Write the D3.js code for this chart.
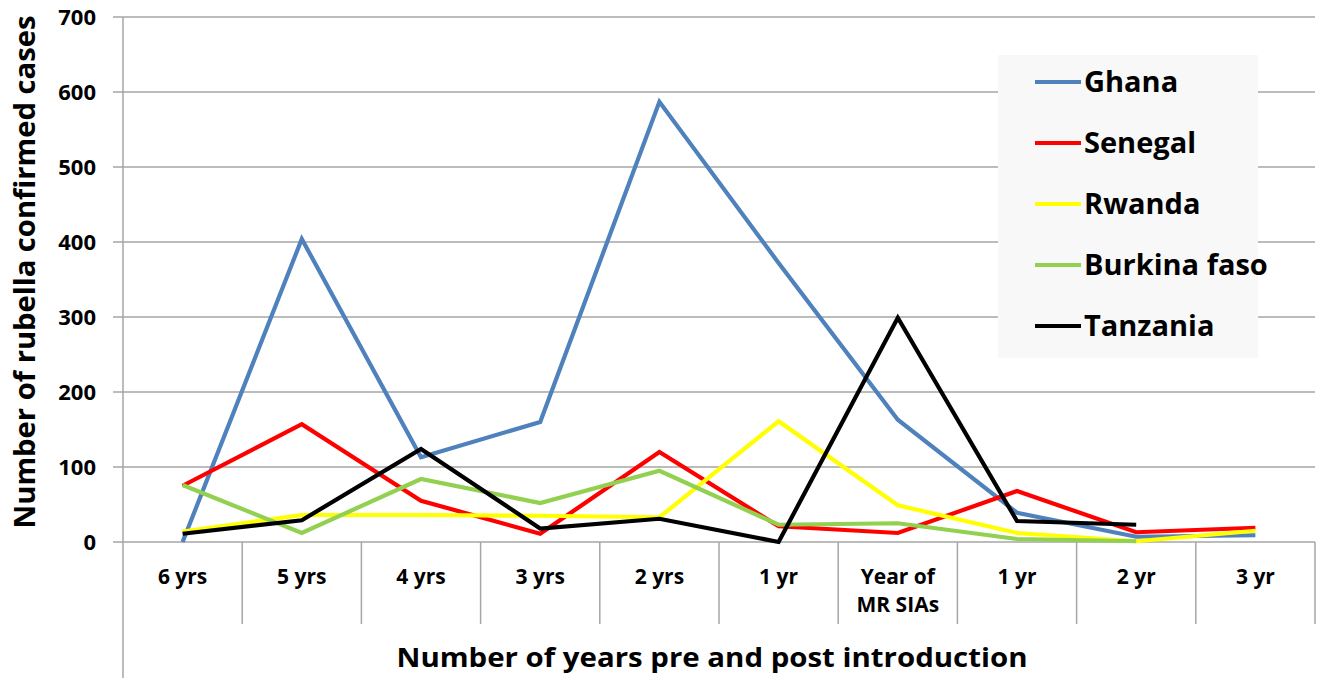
<!DOCTYPE html>
<html>
<head>
<meta charset="utf-8">
<script src="https://cdn.jsdelivr.net/npm/d3@7"></script>
<style>
  body { margin: 0; background: #fff; }
  svg text { font-family: "Open Sans", Lato, "Liberation Sans", sans-serif; font-weight: bold; fill: #000; }
</style>
</head>
<body>
<div id="chart"></div>
<script>
const categories = ["6 yrs", "5 yrs", "4 yrs", "3 yrs", "2 yrs", "1 yr", "Year of|MR SIAs", "1 yr ", "2 yr", "3 yr"];
const yTicks = [0, 100, 200, 300, 400, 500, 600, 700];

const ghana = [0, 404, 113, 160, 587, 372, 163, 39, 7, 9];
const senegal = [75, 157, 55, 11, 120, 21, 12, 68, 13, 19];
const rwanda = [14, 36, 36, 35, 33, 161, 49, 12, 1, 15];
const burkina = [76, 12, 84, 52, 95, 23, 25, 4, 1];
const tanzania = [11, 29, 124, 18, 31, 0, 299, 28, 23];

const seriesNames = ["Ghana", "Senegal", "Rwanda", "Burkina faso", "Tanzania"];
const seriesValues = [ghana, senegal, rwanda, burkina, tanzania];
const seriesColors = ["#4f81bd", "#ff0000", "#ffff00", "#92d050", "#000000"];

function drawChart() {
  const W = 1322, H = 678;
  const left = 123, right = 1315, top = 17, bottom = 542;

  const svg = d3.select("#chart").append("svg")
    .attr("width", W).attr("height", H);

  const x = d3.scaleBand(categories, [left, right]).paddingInner(0).paddingOuter(0);
  const y = d3.scaleLinear([0, 700], [bottom, top]);

  // gridlines + ticks
  svg.append("g").selectAll("line")
    .data(yTicks)
    .join("line")
    .attr("x1", left - 10).attr("x2", right)
    .attr("y1", (d) => y(d)).attr("y2", (d) => y(d))
    .attr("stroke", "#a6a6a6").attr("stroke-width", 1.5);

  svg.append("g").selectAll("text")
    .data(yTicks)
    .join("text")
    .attr("x", 96).attr("y", (d) => y(d))
    .attr("dy", "0.36em")
    .attr("text-anchor", "end")
    .style("font-size", "22px")
    .text((d) => d);

  // left axis line, down to the bottom of the figure
  svg.append("line")
    .attr("x1", left).attr("x2", left)
    .attr("y1", top).attr("y2", H)
    .attr("stroke", "#a6a6a6").attr("stroke-width", 1.5);

  // category separators below axis
  svg.append("g").selectAll("line")
    .data(categories)
    .join("line")
    .attr("x1", (d) => x(d) + x.bandwidth()).attr("x2", (d) => x(d) + x.bandwidth())
    .attr("y1", bottom).attr("y2", 624)
    .attr("stroke", "#a6a6a6").attr("stroke-width", 1.5);

  // category labels
  const lab = svg.append("g").selectAll("text")
    .data(categories)
    .join("text")
    .attr("x", (d) => x(d) + x.bandwidth() / 2)
    .attr("y", 584)
    .attr("text-anchor", "middle")
    .style("font-size", "21px");
  lab.each(function (d) {
    const parts = d.trim().split("|");
    d3.select(this).selectAll("tspan")
      .data(parts)
      .join("tspan")
      .attr("x", x(d) + x.bandwidth() / 2)
      .attr("dy", (p, i) => (i === 0 ? 0 : 28))
      .text((p) => p);
  });

  // axis titles
  svg.append("text")
    .attr("x", 712).attr("y", 667)
    .attr("text-anchor", "middle")
    .attr("textLength", 631)
    .attr("lengthAdjust", "spacingAndGlyphs")
    .style("font-size", "27px")
    .text("Number of years pre and post introduction");

  svg.append("text")
    .attr("transform", `translate(35,272) rotate(-90)`)
    .attr("text-anchor", "middle")
    .attr("textLength", 513)
    .attr("lengthAdjust", "spacingAndGlyphs")
    .style("font-size", "28px")
    .text("Number of rubella confirmed cases");

  // lines
  const line = d3.line()
    .x((d, i) => x(categories[i]) + x.bandwidth() / 2)
    .y((d) => y(d));

  svg.append("g").selectAll("path")
    .data(seriesValues)
    .join("path")
    .attr("d", (d) => line(d))
    .attr("fill", "none")
    .attr("stroke", (d, i) => seriesColors[i])
    .attr("stroke-width", 4.2)
    .attr("stroke-linejoin", "miter");

  // legend
  const lg = svg.append("g");
  lg.append("rect")
    .attr("x", 998).attr("y", 55)
    .attr("width", 260).attr("height", 303)
    .attr("fill", "#f8f8f8");

  const item = lg.selectAll("g")
    .data(seriesNames)
    .join("g")
    .attr("transform", (d, i) => `translate(0,${82 + i * 61})`);
  item.append("line")
    .attr("x1", 1035).attr("x2", 1081)
    .attr("stroke", (d, i) => seriesColors[i])
    .attr("stroke-width", 4);
  item.append("text")
    .attr("x", 1084).attr("dy", "0.36em")
    .style("font-size", "29px")
    .text((d) => d);
}

drawChart();
</script>
</body>
</html>
